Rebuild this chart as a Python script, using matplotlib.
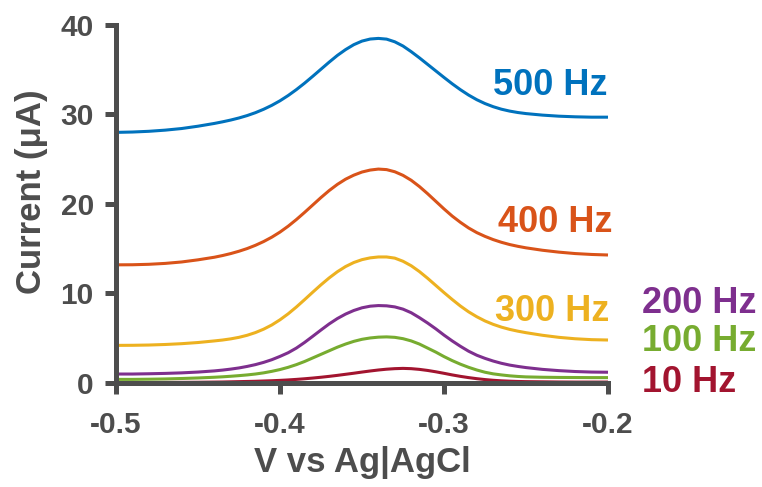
import matplotlib
matplotlib.use("Agg")
import matplotlib.pyplot as plt

plt.rcParams['font.family'] = ['Liberation Sans', 'DejaVu Sans']
plt.rcParams['font.weight'] = 'bold'

# potential axis (V vs Ag|AgCl), finer steps around the peaks
potential = [-0.50, -0.49, -0.48, -0.47, -0.46, -0.45, -0.44,
             -0.435, -0.43, -0.425, -0.42, -0.415, -0.41, -0.405, -0.40,
             -0.395, -0.39, -0.385, -0.38, -0.375, -0.37, -0.365, -0.36,
             -0.355, -0.35, -0.345, -0.34, -0.335, -0.33, -0.325, -0.32,
             -0.315, -0.31, -0.305, -0.30, -0.295, -0.29, -0.285, -0.28,
             -0.275, -0.27, -0.265, -0.26, -0.255,
             -0.25, -0.24, -0.23, -0.22, -0.21, -0.20]

# square-wave voltammograms, current in uA
i_500hz = [28.0, 28.04, 28.12, 28.25, 28.43, 28.69, 29.0,
           29.18, 29.38, 29.61, 29.88, 30.2, 30.58, 31.02, 31.53,
           32.12, 32.78, 33.5, 34.27, 35.06, 35.85, 36.6, 37.25,
           37.8, 38.2, 38.43, 38.5, 38.42, 38.12, 37.65, 37.02,
           36.33, 35.6, 34.87, 34.14, 33.43, 32.77, 32.17, 31.65,
           31.22, 30.87, 30.59, 30.38, 30.22,
           30.1, 29.93, 29.81, 29.74, 29.7, 29.7]
i_400hz = [13.2, 13.21, 13.26, 13.36, 13.52, 13.76, 14.05,
           14.24, 14.46, 14.72, 15.02, 15.38, 15.8, 16.29, 16.86,
           17.52, 18.26, 19.06, 19.89, 20.72, 21.5, 22.19, 22.77,
           23.22, 23.57, 23.79, 23.9, 23.84, 23.6, 23.2, 22.65,
           21.95, 21.15, 20.3, 19.45, 18.65, 17.95, 17.32, 16.8,
           16.38, 16.02, 15.72, 15.47, 15.27,
           15.1, 14.83, 14.62, 14.46, 14.36, 14.3]
i_300hz = [4.2, 4.21, 4.24, 4.3, 4.39, 4.52, 4.7,
           4.8, 4.93, 5.1, 5.33, 5.63, 6.01, 6.48, 7.06,
           7.73, 8.49, 9.31, 10.15, 10.97, 11.74, 12.43, 13.01,
           13.46, 13.78, 13.98, 14.08, 14.08, 13.95, 13.6, 13.1,
           12.45, 11.7, 10.9, 10.1, 9.33, 8.6, 7.95, 7.4,
           6.93, 6.55, 6.24, 5.99, 5.79,
           5.62, 5.33, 5.1, 4.94, 4.84, 4.8]
i_200hz = [1.0, 1.0, 1.03, 1.07, 1.13, 1.22, 1.35,
           1.44, 1.55, 1.68, 1.85, 2.05, 2.3, 2.6, 2.97,
           3.38, 3.9, 4.53, 5.22, 5.92, 6.6, 7.2, 7.7,
           8.1, 8.4, 8.58, 8.65, 8.62, 8.5, 8.25, 7.85,
           7.3, 6.7, 6.05, 5.35, 4.7, 4.1, 3.55, 3.1,
           2.75, 2.45, 2.2, 2.0, 1.85,
           1.72, 1.52, 1.38, 1.28, 1.22, 1.2]
i_100hz = [0.4, 0.4, 0.42, 0.45, 0.5, 0.56, 0.64,
           0.69, 0.75, 0.82, 0.9, 1.0, 1.13, 1.3, 1.5,
           1.75, 2.05, 2.4, 2.8, 3.2, 3.6, 4.0, 4.35,
           4.65, 4.88, 5.03, 5.12, 5.15, 5.1, 4.95, 4.7,
           4.35, 3.9, 3.45, 2.95, 2.5, 2.1, 1.75, 1.45,
           1.2, 1.02, 0.9, 0.8, 0.73,
           0.68, 0.64, 0.62, 0.61, 0.6, 0.6]
i_10hz = [0.05, 0.05, 0.05, 0.06, 0.07, 0.08, 0.1,
          0.11, 0.13, 0.15, 0.17, 0.19, 0.22, 0.25, 0.29,
          0.34, 0.4, 0.47, 0.55, 0.64, 0.74, 0.85, 0.97,
          1.09, 1.22, 1.34, 1.45, 1.54, 1.6, 1.63, 1.6,
          1.52, 1.4, 1.25, 1.08, 0.9, 0.74, 0.6, 0.48,
          0.38, 0.3, 0.24, 0.2, 0.17,
          0.15, 0.13, 0.11, 0.1, 0.1, 0.1]

series = [i_500hz, i_400hz, i_300hz, i_200hz, i_100hz, i_10hz]
labels = ['500 Hz', '400 Hz', '300 Hz', '200 Hz', '100 Hz', '10 Hz']
colors = ['#0072BD', '#D95319', '#EDB120', '#7E2F8E', '#77AC30', '#A2142F']

gray = '#4d4d4d'

fig = plt.figure(figsize=(7.62, 4.87), dpi=100)
ax = fig.add_axes([0.1522, 0.2136, 0.6457, 0.7351])

for y, c in zip(series, colors):
    ax.plot(potential, y, color=c, linewidth=2.2, solid_joinstyle='round',
            solid_capstyle='butt', clip_on=False)

# frequency labels next to the traces
label_pos = [(-0.2006, 33.2, 'right'), (-0.1976, 17.9, 'right'), (-0.199, 8.0, 'right'),
             (-0.179, 8.9, 'left'), (-0.179, 4.6, 'left'), (-0.179, 0.0, 'left')]
for (x, y, ha), txt, c in zip(label_pos, labels, colors):
    ax.text(x, y, txt, color=c, fontsize=26, fontweight='bold', ha=ha, va='center',
            clip_on=False)

ax.set_xlim(-0.5, -0.2)
ax.set_ylim(0, 40)
ax.set_xticks([-0.5, -0.4, -0.3, -0.2])
ax.set_xticklabels(['-0.5', '-0.4', '-0.3', '-0.2'])
ax.set_yticks([0, 10, 20, 30, 40])

for s in ['top', 'right']:
    ax.spines[s].set_visible(False)
for s in ['left', 'bottom']:
    ax.spines[s].set_linewidth(3.6)
    ax.spines[s].set_color(gray)
    ax.spines[s].set_capstyle('projecting')

ax.tick_params(direction='out', length=8, width=3.6, color=gray, labelcolor=gray,
               labelsize=21.5)
ax.tick_params(axis='x', pad=12)
ax.tick_params(axis='y', pad=8)

ax.set_xlabel('V vs Ag|AgCl', fontsize=25, fontweight='bold', color=gray)
ax.set_ylabel('Current (μA)', fontsize=25, fontweight='bold', color=gray)
ax.xaxis.set_label_coords(0.5, -0.175)
ax.yaxis.set_label_coords(-0.138, 0.534)

fig.savefig('out.png', dpi=100)
